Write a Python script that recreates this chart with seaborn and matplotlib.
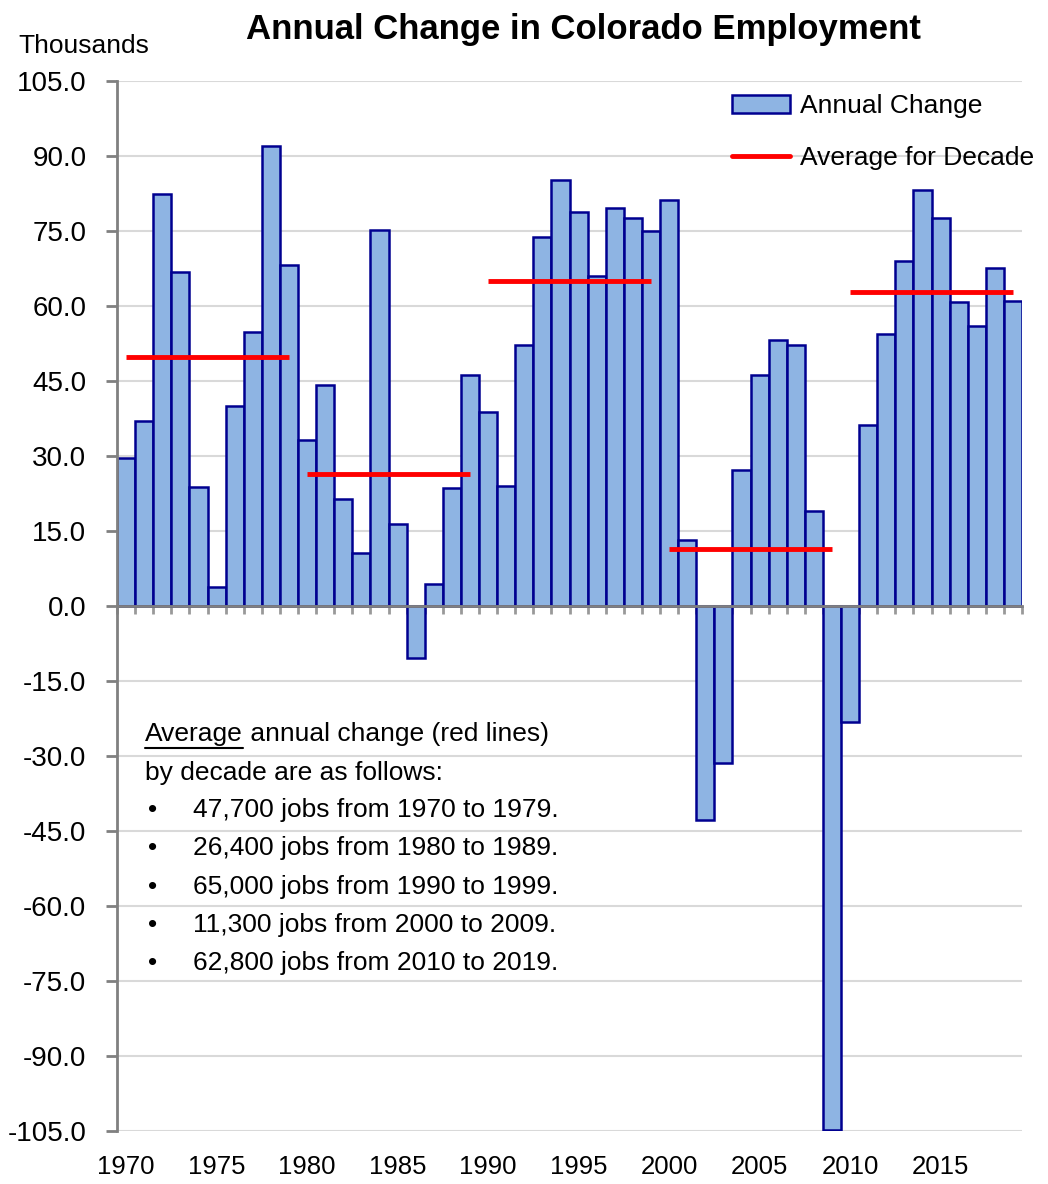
import numpy as np
import pandas as pd
import seaborn as sns
import matplotlib.pyplot as plt
from matplotlib.patches import Patch
from matplotlib.lines import Line2D

# annual change in employment, thousands
years = list(range(1970, 2020))
change = [29.6, 37.0, 82.4, 66.8, 23.8, 3.8, 40.0, 54.8, 92.0, 68.2,
          33.2, 44.2, 21.4, 10.6, 75.2, 16.4, -10.4, 4.4, 23.6, 46.2,
          38.8, 24.0, 52.2, 73.8, 85.2, 78.8, 66.0, 79.6, 77.6, 75.0,
          81.2, 13.2, -42.8, -31.4, 27.2, 46.2, 53.2, 52.2, 19.0, -104.8,
          -23.2, 36.2, 54.4, 69.0, 83.2, 77.6, 60.8, 56.0, 67.6, 61.0]

decade_start = [1970, 1980, 1990, 2000, 2010]
decade_avg = [49.8, 26.4, 65.0, 11.4, 62.8]

notes = ["47,700 jobs from 1970 to 1979.",
         "26,400 jobs from 1980 to 1989.",
         "65,000 jobs from 1990 to 1999.",
         "11,300 jobs from 2000 to 2009.",
         "62,800 jobs from 2010 to 2019."]

df = pd.DataFrame({"year": years, "change": change})

sns.set_theme(style="white")
plt.rcParams['font.family'] = ['Liberation Sans', 'DejaVu Sans']
plt.rcParams['text.color'] = 'black'
plt.rcParams['xtick.color'] = 'black'
plt.rcParams['ytick.color'] = 'black'

fill = "#8EB4E3"
edge = "#000090"

fig = plt.figure(figsize=(10.48, 11.84), dpi=100)
ax = fig.add_axes([117/1048, 53/1184, 905/1048, 1050/1184])

sns.barplot(data=df, x="year", y="change", color=fill, edgecolor=edge,
            linewidth=1.8, width=1.0, saturation=1, ax=ax, zorder=2)

# decade averages, drawn from first to last bar centre of each decade
for ds, avg in zip(decade_start, decade_avg):
    i0 = years.index(ds)
    ax.plot([i0, i0 + 9], [avg, avg], color="red", lw=3.5, zorder=3,
            solid_capstyle="butt")

ax.set_xlim(-0.5, len(years) - 0.5)
ax.set_ylim(-105, 105)
ax.set_yticks(np.arange(-105, 106, 15))
ax.set_yticklabels([f"{v:.1f}" for v in np.arange(-105, 106, 15)])
ax.yaxis.grid(True, color="#D9D9D9", lw=1.5, zorder=0)
ax.set_axisbelow(True)
ax.set_xlabel("")
ax.set_ylabel("")

for s in ["top", "right"]:
    ax.spines[s].set_visible(False)
ax.spines["left"].set_color("#808080")
ax.spines["left"].set_linewidth(2)
ax.spines["bottom"].set_position(("data", 0))
ax.spines["bottom"].set_color("#808080")
ax.spines["bottom"].set_linewidth(2)
ax.spines["bottom"].set_zorder(4)

# tick marks between bars on the zero line
ax.set_xticks(np.arange(-0.5, len(years), 1))
ax.set_xticklabels([])
ax.tick_params(axis="x", bottom=True, length=6, width=2, color="#999999", direction="out")
ax.tick_params(axis="y", left=True, length=8, width=2, color="#808080",
               labelsize=20, pad=14)

# year labels along the bottom of the plot
sec = ax.secondary_xaxis(-0.0, functions=(lambda v: v, lambda v: v))
pos5 = [i for i, y in enumerate(years) if y % 5 == 0]
sec.set_xticks(pos5)
sec.set_xticklabels([str(years[i]) for i in pos5])
sec.tick_params(axis="x", length=0, labelsize=18.5, pad=17)
sec.spines["bottom"].set_visible(False)

handles = [Patch(facecolor=fill, edgecolor=edge, lw=1.8, label="Annual Change"),
           Line2D([0], [0], color="red", lw=3.5, label="Average for Decade")]
ax.legend(handles=handles, loc="upper right", frameon=False, fontsize=19,
          bbox_to_anchor=(1.04, 1.01), handlelength=2.2, handletextpad=0.4,
          labelspacing=1.05)

fig.text(583/1048, 1 - 30/1184, "Annual Change in Colorado Employment",
         ha="center", va="center", fontsize=25, fontweight="bold")
fig.text(18/1048, 1 - 46/1184, "Thousands", ha="left", va="center", fontsize=19)

# note block
fs = 19
x0 = 145/1048
t = fig.text(x0, 1 - 734/1184, "Average", ha="left", va="center", fontsize=fs)
fig.canvas.draw()
bb = t.get_window_extent()
fig.text(bb.x1 / 1048, 1 - 734/1184, " annual change (red lines)",
         ha="left", va="center", fontsize=fs)
fig.add_artist(Line2D([bb.x0 / 1048, bb.x1 / 1048],
                      [(bb.y0 - 2) / 1184, (bb.y0 - 2) / 1184],
                      color="black", lw=1.5))
fig.text(x0, 1 - 773/1184, "by decade are as follows:", ha="left", va="center", fontsize=fs)
for k, line in enumerate(notes):
    yy = 1 - (810 + 38.3 * k) / 1184
    fig.text(148/1048, yy, "•", ha="left", va="center", fontsize=fs)
    fig.text(193/1048, yy, line, ha="left", va="center", fontsize=fs)

fig.savefig("out.png", dpi=100)
